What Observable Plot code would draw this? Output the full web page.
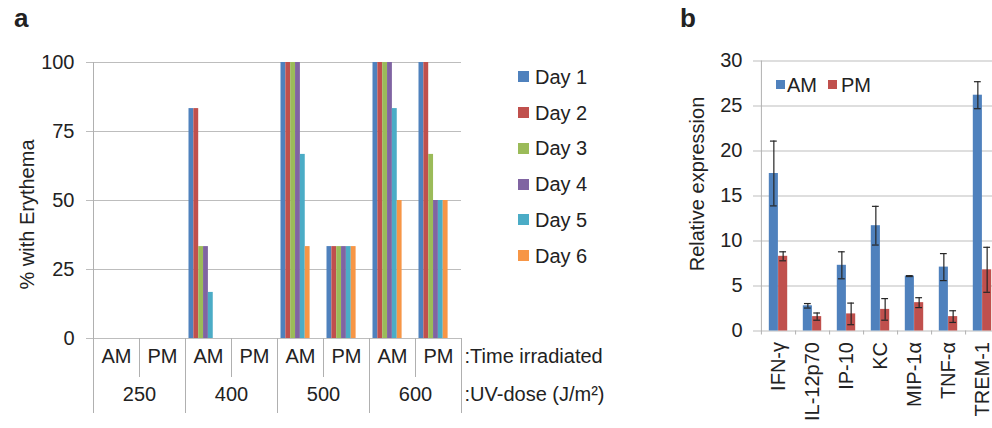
<!DOCTYPE html>
<html><head><meta charset="utf-8">
<script src="https://cdn.jsdelivr.net/npm/d3@7"></script>
<script src="https://cdn.jsdelivr.net/npm/@observablehq/plot@0.6"></script>
<style>
html,body{margin:0;padding:0;background:#fff;overflow:hidden;}
#wrap{position:relative;width:992px;height:428px;overflow:hidden;font-family:"Liberation Sans",Arial,sans-serif;color:#222;}
#wrap svg{position:absolute;top:0;overflow:visible;}
.panel{position:absolute;font-weight:bold;font-size:26px;line-height:1;}
.lg{position:absolute;font-size:20px;line-height:1;white-space:nowrap;}
.sw{position:absolute;}
</style></head><body><div id="wrap"></div>
<script>
// ---------- Panel a data ----------
const doses = ["250", "400", "500", "600"];
const times = ["AM", "PM"];
const days = ["Day 1", "Day 2", "Day 3", "Day 4", "Day 5", "Day 6"];
const dayColors = ["#4F81BD", "#C0504D", "#9BBB59", "#8064A2", "#4BACC6", "#F79646"];
// % with erythema per group (250 AM, 250 PM, 400 AM, 400 PM, 500 AM, 500 PM, 600 AM, 600 PM)
const day1 = [0, 0, 83.3, 0, 100, 33.3, 100, 100];
const day2 = [0, 0, 83.3, 0, 100, 33.3, 100, 100];
const day3 = [0, 0, 33.3, 0, 100, 33.3, 100, 66.7];
const day4 = [0, 0, 33.3, 0, 100, 33.3, 100, 50];
const day5 = [0, 0, 16.7, 0, 66.7, 33.3, 83.3, 50];
const day6 = [0, 0, 0, 0, 33.3, 33.3, 50, 50];
const yTicksA = [0, 25, 50, 75, 100];
const yLabelA = "% with Erythema";
const rowLabels = [":Time irradiated", ":UV-dose (J/m²)"];

// ---------- Panel b data ----------
const cytokines = ["IFN-γ", "IL-12p70", "IP-10", "KC", "MIP-1α", "TNF-α", "TREM-1"];
const amMean = [17.5, 2.8, 7.3, 11.7, 6.1, 7.1, 26.2];
const amErr  = [3.6, 0.25, 1.5, 2.15, 0.05, 1.5, 1.5];
const pmMean = [8.3, 1.6, 1.9, 2.4, 3.15, 1.6, 6.8];
const pmErr  = [0.5, 0.4, 1.2, 1.2, 0.55, 0.65, 2.5];
const yTicksB = [0, 5, 10, 15, 20, 25, 30];
const yLabelB = "Relative expression";
const seriesB = ["AM", "PM"];
const colorsB = ["#4F81BD", "#C0504D"];

const FONT = '"Liberation Sans", Arial, sans-serif';
const TXT = "#222";
const GRID = "#bdbdbd";
const AXIS = "#b0b0b0";
const wrap = document.getElementById("wrap");

// ================= Panel a =================
const groups = doses.flatMap(d => times.map(t => `${d} ${t}`));
const series = [day1, day2, day3, day4, day5, day6];
const rowsA = days.flatMap((day, di) => groups.map((g, gi) => ({day, group: g, value: series[di][gi]})));
const AW = 480, AH = 428, AL = 93, AR = 19, AT = 62, AB = 90;
const frameHA = AH - AT - AB;
const groupW = (AW - AL - AR) / groups.length;
const barW = 4.85, padL = 3.5;
const row1 = 39, row2 = 75;

const barMarks = days.map((day, di) => Plot.barY(rowsA.filter(r => r.day === day), {
  x: "group", y: "value", fill: dayColors[di],
  insetLeft: padL + di * barW, insetRight: groupW - padL - (di + 1) * barW
}));

const amGroups = groups.filter(g => g.endsWith("AM"));
const pmGroups = groups.filter(g => g.endsWith("PM"));
const last = groups[groups.length - 1];

const plotA = Plot.plot({
  width: AW, height: AH,
  marginLeft: AL, marginRight: AR, marginTop: AT, marginBottom: AB,
  style: {fontSize: "20px", fontFamily: FONT, color: TXT, background: "transparent"},
  x: {domain: groups, padding: 0, axis: null},
  y: {domain: [0, 100], ticks: yTicksA, tickSize: 0, tickPadding: 19, label: null},
  marks: [
    Plot.ruleY(yTicksA, {stroke: GRID, insetLeft: -7}),
    ...barMarks,
    // y-axis line + first divider
    Plot.ruleX([groups[0]], {x: d => d, dx: -groupW / 2, stroke: AXIS, insetBottom: -row2}),
    // dividers between doses
    Plot.ruleX(amGroups.slice(1), {x: d => d, dx: -groupW / 2, stroke: AXIS, insetTop: frameHA, insetBottom: -row2}),
    Plot.ruleX([last], {x: d => d, dx: groupW / 2, stroke: AXIS, insetTop: frameHA, insetBottom: -row2}),
    // dividers between AM/PM
    Plot.ruleX(pmGroups, {x: d => d, dx: -groupW / 2, stroke: AXIS, insetTop: frameHA, insetBottom: -row1}),
    Plot.text(groups, {x: d => d, text: d => d.split(" ")[1], frameAnchor: "bottom", dy: 24, fill: TXT, fontSize: 20}),
    Plot.text(doses, {x: d => `${d} AM`, text: d => d, frameAnchor: "bottom", dx: groupW / 2, dy: 62, fill: TXT, fontSize: 20}),
    Plot.text([rowLabels[0]], {x: () => last, text: d => d, frameAnchor: "bottom", dx: groupW / 2 + 3, dy: 24, textAnchor: "start", fill: TXT, fontSize: 20}),
    Plot.text([rowLabels[1]], {x: () => last, text: d => d, frameAnchor: "bottom", dx: groupW / 2 + 3, dy: 62, textAnchor: "start", fill: TXT, fontSize: 20}),
    Plot.text([yLabelA], {text: d => d, frameAnchor: "left", textAnchor: "middle", rotate: -90, dx: -66, dy: 14, fill: TXT, fontSize: 20})
  ]
});
plotA.style.left = "0px";
wrap.appendChild(plotA);

// legend a
days.forEach((day, i) => {
  const cy = 76.7 + i * 35.8;
  const sw = document.createElement("div");
  sw.className = "sw";
  Object.assign(sw.style, {left: "518px", top: (cy - 5.5) + "px", width: "11px", height: "11px", background: dayColors[i]});
  wrap.appendChild(sw);
  const t = document.createElement("div");
  t.className = "lg";
  t.textContent = day;
  Object.assign(t.style, {left: "535px", top: (cy - 10) + "px"});
  wrap.appendChild(t);
});

// ================= Panel b =================
const BX = 640, BW = 370, BL = 120, BR = 10.6, BT = 60.5, BB = 97.5;
const frameHB = 428 - BT - BB;
const catW = (BW - BL - BR) / cytokines.length;
const bBarW = 9.3, bPad = (catW - 2 * bBarW) / 2, capW = 7;
const rowsB = cytokines.map((c, i) => ({c, am: amMean[i], amE: amErr[i], pm: pmMean[i], pmE: pmErr[i]}));
const capInset = (center) => ({insetLeft: center - capW / 2, insetRight: catW - center - capW / 2});
const amC = bPad + bBarW / 2, pmC = bPad + 1.5 * bBarW;
const ERR = "#262626";

const plotB = Plot.plot({
  width: BW, height: 428,
  marginLeft: BL, marginRight: BR, marginTop: BT, marginBottom: BB,
  style: {fontSize: "20px", fontFamily: FONT, color: TXT, background: "transparent"},
  x: {domain: cytokines, padding: 0, tickRotate: -90, tickSize: 0, tickPadding: 11, label: null},
  y: {domain: [0, 30], ticks: yTicksB, tickSize: 0, tickPadding: 18, label: null},
  marks: [
    Plot.ruleY(yTicksB, {stroke: GRID, insetLeft: -7}),
    Plot.barY(rowsB, {x: "c", y: "am", fill: colorsB[0], insetLeft: bPad, insetRight: catW - bPad - bBarW}),
    Plot.barY(rowsB, {x: "c", y: "pm", fill: colorsB[1], insetLeft: bPad + bBarW, insetRight: bPad}),
    Plot.ruleX(rowsB, {x: "c", y1: d => d.am - d.amE, y2: d => d.am + d.amE, dx: amC - catW / 2, stroke: ERR, strokeWidth: 1.2}),
    Plot.ruleX(rowsB, {x: "c", y1: d => d.pm - d.pmE, y2: d => d.pm + d.pmE, dx: pmC - catW / 2, stroke: ERR, strokeWidth: 1.2}),
    Plot.tickY(rowsB, {x: "c", y: d => d.am + d.amE, stroke: ERR, strokeWidth: 1.2, ...capInset(amC)}),
    Plot.tickY(rowsB, {x: "c", y: d => d.am - d.amE, stroke: ERR, strokeWidth: 1.2, ...capInset(amC)}),
    Plot.tickY(rowsB, {x: "c", y: d => d.pm + d.pmE, stroke: ERR, strokeWidth: 1.2, ...capInset(pmC)}),
    Plot.tickY(rowsB, {x: "c", y: d => d.pm - d.pmE, stroke: ERR, strokeWidth: 1.2, ...capInset(pmC)}),
    Plot.ruleX([cytokines[0]], {x: d => d, dx: -catW / 2, stroke: AXIS, insetBottom: -4}),
    Plot.ruleX(cytokines, {x: d => d, dx: catW / 2, stroke: AXIS, insetTop: frameHB, insetBottom: -4}),
    Plot.text([yLabelB], {text: d => d, frameAnchor: "left", textAnchor: "middle", rotate: -90, dx: -63, dy: -12, fill: TXT, fontSize: 20})
  ]
});
plotB.style.left = BX + "px";
wrap.appendChild(plotB);

// legend b
const lgB = [{x: 776, tx: 787}, {x: 828, tx: 841}];
seriesB.forEach((s, i) => {
  const sw = document.createElement("div");
  sw.className = "sw";
  Object.assign(sw.style, {left: lgB[i].x + "px", top: "80px", width: "9px", height: "9px", background: colorsB[i]});
  wrap.appendChild(sw);
  const t = document.createElement("div");
  t.className = "lg";
  t.textContent = s;
  Object.assign(t.style, {left: lgB[i].tx + "px", top: "75px"});
  wrap.appendChild(t);
});

// panel letters
[["a", 14], ["b", 680]].forEach(([l, x]) => {
  const d = document.createElement("div");
  d.className = "panel";
  d.textContent = l;
  Object.assign(d.style, {left: x + "px", top: "5px"});
  wrap.appendChild(d);
});
</script></body></html>
